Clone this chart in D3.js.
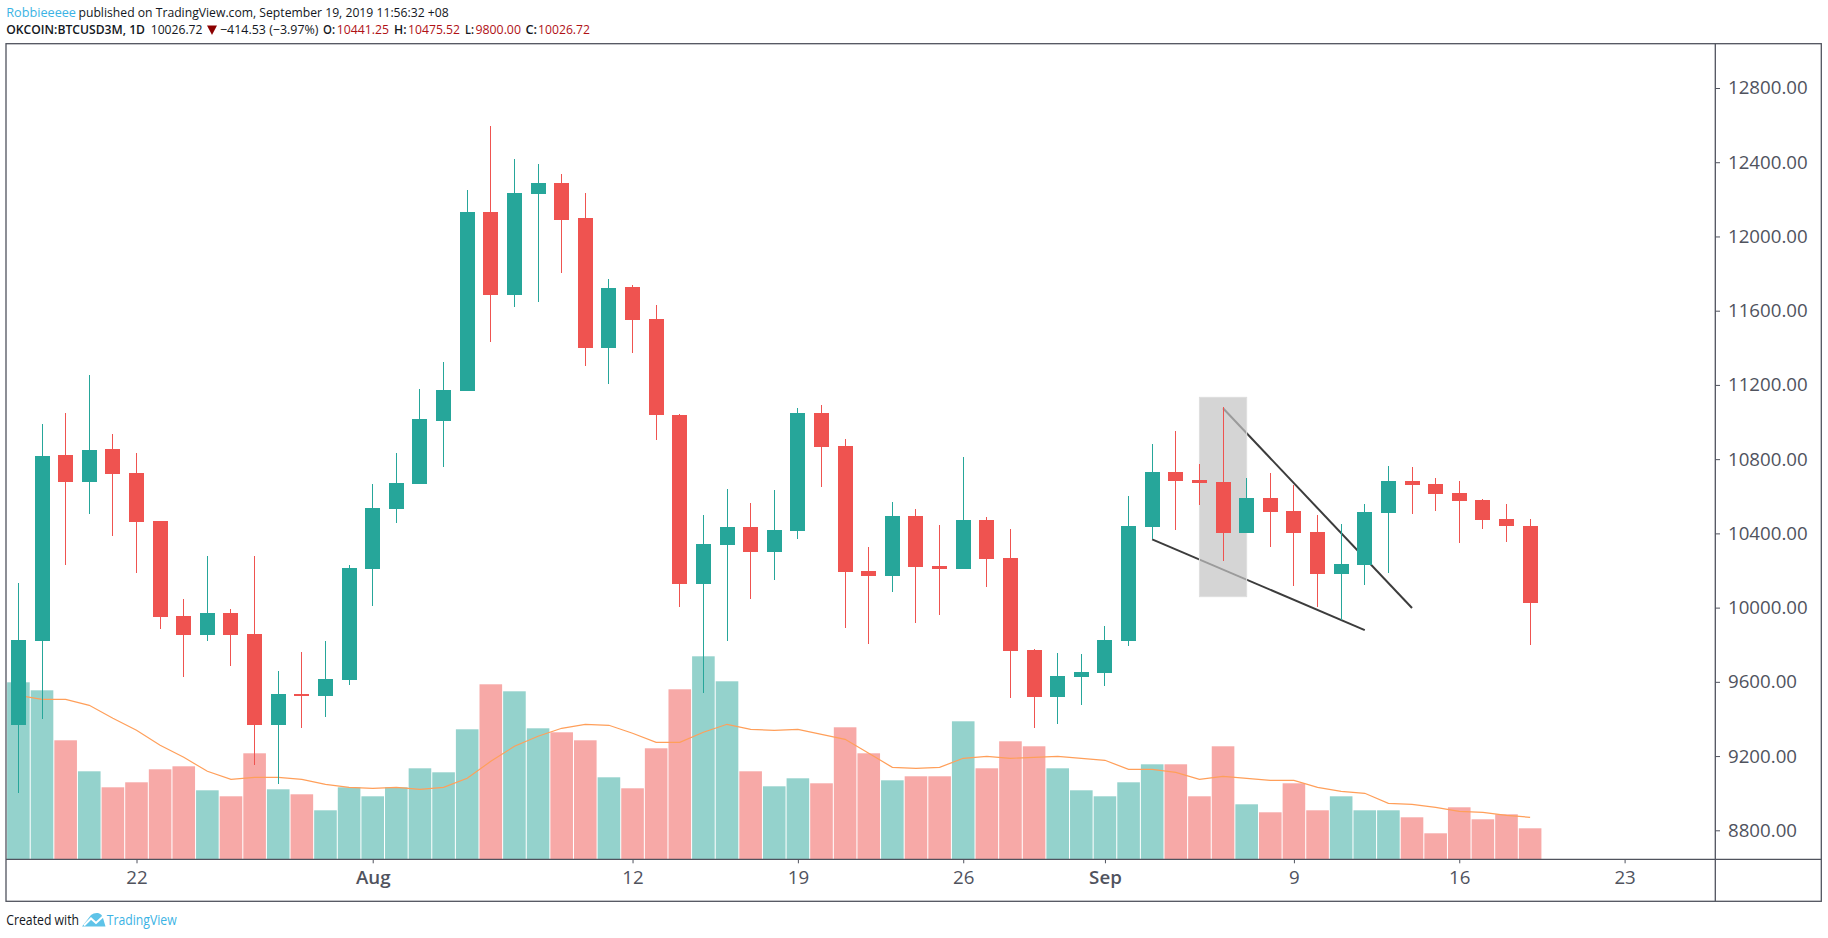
<!DOCTYPE html>
<html lang="en">
<head>
  <meta charset="UTF-8">
  <title>OKCOIN:BTCUSD3M, 1D</title>
  <script src="https://cdnjs.cloudflare.com/ajax/libs/d3/7.8.5/d3.min.js"></script>
  <style>
    html, body { margin: 0; padding: 0; background: #fff; }
    svg { display: block; }
    text { font-family: "Open Sans", sans-serif; }
    .axis text { fill: #50535e; font-size: 18.7px; }
    .axis line { stroke: #50535e; stroke-width: 1; }
    .axis path { display: none; }
  </style>
</head>
<body>
<svg id="chart" width="1828" height="938"></svg>
<script>
// daily candles, Jul 17 2019 -> Sep 19 2019
const firstDay = new Date(Date.UTC(2019, 6, 17));
const opens = [9367,9820,10822,10677,10855,10725,10467,9955,9852,9971,
  9858,9367,9534,9524,9610,10208,10531,10666,11005,11167,
  12132,11684,12229,12288,12099,11399,11728,11555,11038,10127,
  10337,10434,10300,10413,11049,10871,10197,10170,10494,10224,
  10208,10472,10267,9772,9518,9626,9648,9820,10434,10731,
  10688,10677,10402,10591,10521,10407,10181,10230,10510,10682,
  10666,10618,10580,10477,10441.25];
const highs = [10133,10989,11049,11253,10935,10833,10467,10046,10278,9992,
  10278,9656,9761,9820,10230,10666,10833,11178,11323,12250,
  12595,12417,12390,12336,12234,11771,11738,11631,11043,10499,
  10639,10564,10634,11076,11092,10908,10327,10569,10531,10445,
  10812,10488,10424,9777,9755,9750,9901,10601,10882,10952,
  10774,11081,10698,10725,10661,10499,10450,10558,10763,10758,
  10698,10682,10585,10558,10475.52];
const lows = [9001,9400,10230,10504,10386,10186,9885,9626,9820,9685,
  9152,9049,9351,9410,9583,10009,10456,10666,10758,11167,
  11431,11620,11647,11803,11302,11205,11372,10903,10003,9540,
  9822,10046,10149,10370,10650,9890,9804,10084,9917,9960,
  10208,10111,9513,9351,9373,9475,9578,9793,10370,10418,
  10553,10251,10402,10327,10116,10003,9933,10122,10186,10504,
  10521,10348,10424,10353,9800];
const closes = [9825,10817,10677,10849,10720,10461,9949,9852,9971,9852,
  9367,9534,9524,9615,10213,10537,10671,11016,11173,12132,
  11684,12234,12288,12089,11399,11722,11550,11038,10127,10343,
  10434,10300,10418,11049,10865,10192,10170,10494,10219,10208,
  10472,10262,9766,9518,9631,9653,9825,10440,10731,10682,
  10671,10402,10591,10515,10402,10181,10235,10515,10682,10661,
  10612,10574,10472,10440,10026.72];
// volume has no printed scale, so these are relative units
const volumes = [177,169,119,88,72,77,90,93,69,63,
  106,70,65,49,72,63,72,91,87,130,
  175,168,131,127,119,82,71,111,170,203,
  178,88,73,81,76,132,106,79,83,83,
  138,91,118,113,91,69,63,77,95,95,
  63,113,55,47,76,49,63,49,49,42,
  26,52,40,45,31];
const volumeMA = [164,160,160,154,141,129,114,102,88,80,
  82,82,80,75,72,71,72,70,72,81,
  98,113,123,131,135,134,126,117,117,127,
  135,130,129,130,125,120,106,92,91,92,
  101,103,101,102,103,101,99,90,90,87,
  80,83,81,79,79,72,68,66,56,55,
  52,48,47,44,42];

const priceTicks = [8800,9200,9600,10000,10400,10800,11200,11600,12000,12400,12800];
const dateTicks = ["2019-07-22","2019-08-01","2019-08-12","2019-08-19","2019-08-26",
  "2019-09-01","2019-09-09","2019-09-16","2019-09-23"].map(d => new Date(d));

// drawings on the chart: [date, price] pairs
const wedgeUpper = [["2019-09-06", 11074], ["2019-09-14", 9998]];
const wedgeLower = [["2019-09-03", 10368], ["2019-09-12", 9879]];
const highlightDays = ["2019-09-05", "2019-09-07"];
const highlightPrices = [11133, 10059];

const GREEN = "#26a69a", RED = "#ef5350";
const GREEN_VOL = "#94d2cc", RED_VOL = "#f7a9a7";
const LINE = "#50535e";
const frameL = 6, frameT = 43.7, frameR = 1821.3, frameB = 901.3;
const axisX = 1715.3, axisY = 859.3;

const days = opens.map((_, i) => d3.utcDay.offset(firstDay, i));
const x = d3.scaleUtc().domain([firstDay, dateTicks[8]]).range([18.4, 1624.6]);
const y = d3.scaleLinear().domain([8800, 12800]).range([830.3, 88]);
const yVol = d3.scaleLinear().domain([0, 300]).range([axisY, axisY - 300]);
const bodyW = 15, barW = 22.6;

const svg = d3.select("#chart");
svg.append("clipPath").attr("id", "plot").append("rect")
  .attr("x", frameL).attr("y", frameT).attr("width", axisX - frameL).attr("height", axisY - frameT);
const plot = svg.append("g").attr("clip-path", "url(#plot)");
const rows = days.map((d, i) => ({d, o: opens[i], h: highs[i], l: lows[i], c: closes[i], v: volumes[i]}));

// volume
plot.append("g").selectAll("rect").data(rows).join("rect")
  .attr("x", d => x(d.d) - barW / 2)
  .attr("y", d => yVol(d.v))
  .attr("width", barW)
  .attr("height", d => yVol(0) - yVol(d.v))
  .attr("fill", d => d.c >= d.o ? GREEN_VOL : RED_VOL);

plot.append("path")
  .datum(volumeMA)
  .attr("fill", "none")
  .attr("stroke", "#ff9f5a")
  .attr("stroke-width", 1.2)
  .attr("d", d3.line().x((d, i) => x(days[i])).y(d => yVol(d)));

// wedge lines sit under the grey box, which washes them out
const wedge = d3.line().x(d => x(new Date(d[0]))).y(d => y(d[1]));
plot.selectAll(".wedge").data([wedgeUpper, wedgeLower]).join("path")
  .attr("class", "wedge")
  .attr("fill", "none")
  .attr("stroke", "#3c3c3c")
  .attr("stroke-width", 2)
  .attr("d", wedge);

plot.append("rect")
  .attr("x", x(new Date(highlightDays[0])))
  .attr("y", y(highlightPrices[0]))
  .attr("width", x(new Date(highlightDays[1])) - x(new Date(highlightDays[0])))
  .attr("height", y(highlightPrices[1]) - y(highlightPrices[0]))
  .attr("fill", "rgb(195,195,195)")
  .attr("fill-opacity", 0.7)
  .attr("stroke", "#dedede");

// candles
const candles = plot.append("g").selectAll("g").data(rows).join("g")
  .attr("fill", d => d.c >= d.o ? GREEN : RED)
  .attr("shape-rendering", "crispEdges");
candles.append("rect")
  .attr("x", d => x(d.d) - 0.5)
  .attr("y", d => y(d.h))
  .attr("width", 1)
  .attr("height", d => y(d.l) - y(d.h));
candles.append("rect")
  .attr("x", d => x(d.d) - bodyW / 2)
  .attr("y", d => y(Math.max(d.o, d.c)))
  .attr("width", bodyW)
  .attr("height", d => Math.max(2, Math.abs(y(d.o) - y(d.c))));

// axes
const fmtDate = d => d.getUTCDate() === 1 ? d3.utcFormat("%b")(d) : d3.utcFormat("%-d")(d);
const xAxis = svg.append("g").attr("class", "axis")
  .attr("transform", `translate(0,${axisY})`)
  .call(d3.axisBottom(x).tickValues(dateTicks).tickFormat(fmtDate).tickSize(4).tickPadding(7));
xAxis.selectAll("text").filter(d => d.getUTCDate() === 1).attr("font-weight", 600);
svg.append("g").attr("class", "axis")
  .attr("transform", `translate(${axisX},0)`)
  .call(d3.axisRight(y).tickValues(priceTicks).tickFormat(d3.format(".2f")).tickSize(4.7).tickPadding(8));

// frame
svg.append("rect")
  .attr("x", frameL).attr("y", frameT)
  .attr("width", frameR - frameL).attr("height", frameB - frameT)
  .attr("fill", "none").attr("stroke", LINE).attr("stroke-width", 1.3);
svg.append("line").attr("x1", frameL).attr("x2", frameR).attr("y1", axisY).attr("y2", axisY)
  .attr("stroke", LINE).attr("stroke-width", 1.3);
svg.append("line").attr("x1", axisX).attr("x2", axisX).attr("y1", frameT).attr("y2", frameB)
  .attr("stroke", LINE).attr("stroke-width", 1.3);

// header and footer text
function label(x0, x1, yPos, str, fill, weight, size) {
  svg.append("text")
    .attr("x", x0).attr("y", yPos)
    .attr("textLength", x1 - x0).attr("lengthAdjust", "spacingAndGlyphs")
    .attr("fill", fill)
    .attr("font-size", size || 13)
    .attr("font-weight", weight || 400)
    .text(str);
}
const BLUE = "#3bb3e4", INK = "#131722", DARKRED = "#b01116";
label(6.3, 76, 16.7, "Robbieeeee", BLUE);
label(78.5, 448.7, 16.7, "published on TradingView.com, September 19, 2019 11:56:32 +08", INK);
label(6.3, 145, 33.5, "OKCOIN:BTCUSD3M, 1D", INK, 600);
label(150.7, 202.5, 33.5, "10026.72", INK);
svg.append("path").attr("d", "M207 25.5H217L212 35Z").attr("fill", "#8b0000");
label(220, 318.5, 33.5, "\u2212414.53 (\u22123.97%)", INK);
label(323, 335, 33.5, "O:", INK, 600);
label(336.7, 389, 33.5, "10441.25", DARKRED);
label(394, 406.5, 33.5, "H:", INK, 600);
label(408, 460, 33.5, "10475.52", DARKRED);
label(465, 474, 33.5, "L:", INK, 600);
label(475.4, 521, 33.5, "9800.00", DARKRED);
label(525.4, 537, 33.5, "C:", INK, 600);
label(538, 590, 33.5, "10026.72", DARKRED);

label(6.3, 79, 925, "Created with", INK, 400, 14);
label(106.7, 176.7, 925, "TradingView", BLUE, 400, 14);
// TradingView logo mark
svg.append("path")
  .attr("d", "M82 926.5L91 915Q94 912.5 98 913Q102 914 103 918L105.5 926.5Z")
  .attr("fill", "#5ec3e8");
svg.append("path")
  .attr("d", "M84 925.5L91 918.5L96 923L103 916.5")
  .attr("fill", "none").attr("stroke", "#fff").attr("stroke-width", 2);
</script>
</body>
</html>
